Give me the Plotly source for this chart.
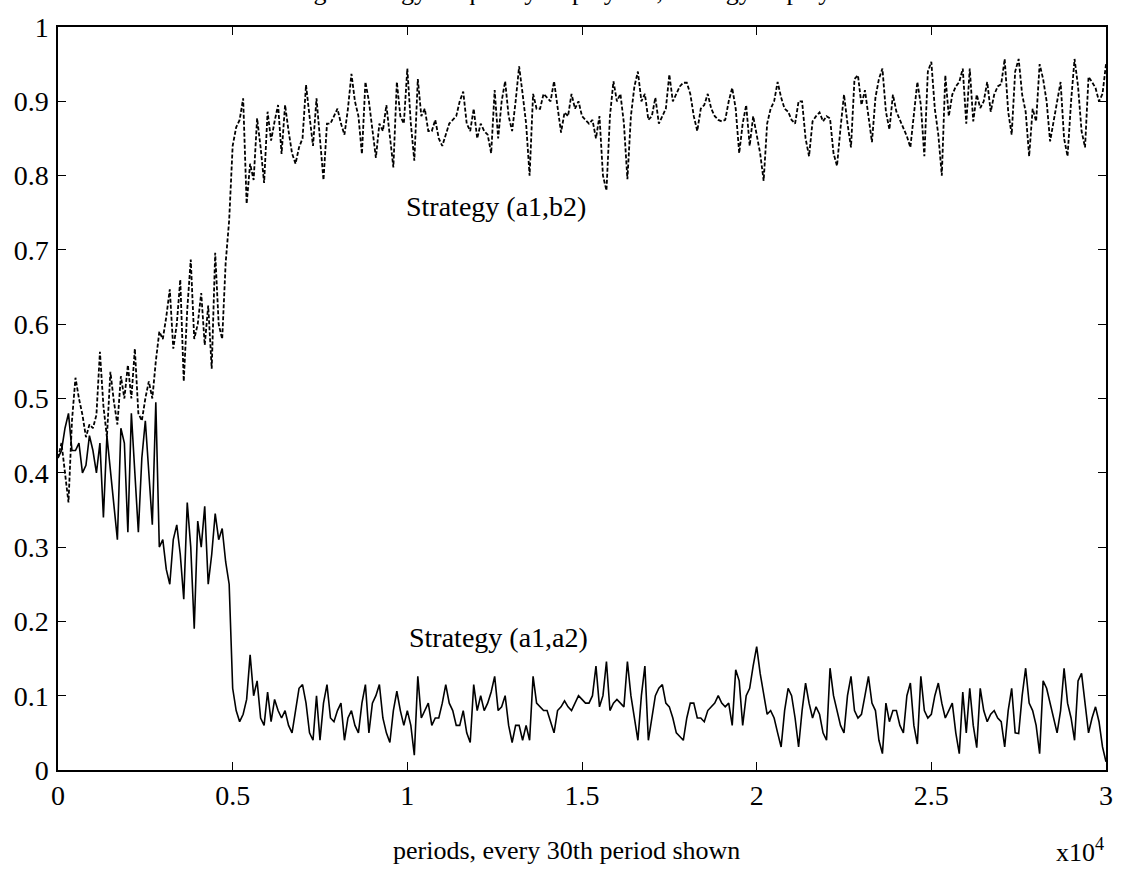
import plotly.graph_objects as go

# periods (every 100th period, in units of 10^4)
periods = list(range(0, 30001, 100))

# Strategy (a1,a2) - solid
a1a2 = [
    0.42, 0.43, 0.46, 0.48, 0.43, 0.43, 0.44, 0.40, 0.41, 0.45,
    0.43, 0.40, 0.44, 0.34, 0.45, 0.40, 0.35, 0.31, 0.46, 0.44,
    0.32, 0.48, 0.40, 0.32, 0.42, 0.47, 0.40, 0.33, 0.495, 0.30,
    0.31, 0.27, 0.25, 0.31, 0.33, 0.29, 0.23, 0.36, 0.30, 0.19,
    0.335, 0.30, 0.355, 0.25, 0.29, 0.345, 0.31, 0.325, 0.28, 0.25,
    0.11, 0.08, 0.065, 0.075, 0.095, 0.155, 0.10, 0.12, 0.07, 0.06,
    0.105, 0.065, 0.095, 0.08, 0.07, 0.08, 0.06, 0.05, 0.08, 0.11,
    0.115, 0.09, 0.05, 0.04, 0.10, 0.04, 0.09, 0.115, 0.07, 0.065,
    0.08, 0.09, 0.04, 0.07, 0.08, 0.06, 0.05, 0.09, 0.115, 0.05,
    0.09, 0.10, 0.115, 0.07, 0.05, 0.037, 0.08, 0.106, 0.08, 0.06,
    0.08, 0.06, 0.02, 0.126, 0.07, 0.08, 0.09, 0.06, 0.07, 0.07,
    0.09, 0.115, 0.09, 0.08, 0.06, 0.06, 0.08, 0.05, 0.037, 0.115,
    0.08, 0.10, 0.08, 0.09, 0.105, 0.126, 0.08, 0.085, 0.10, 0.06,
    0.037, 0.06, 0.06, 0.04, 0.06, 0.04, 0.126, 0.09, 0.085, 0.08,
    0.08, 0.065, 0.05, 0.08, 0.085, 0.093, 0.085, 0.08, 0.09, 0.10,
    0.095, 0.09, 0.09, 0.10, 0.14, 0.085, 0.10, 0.146, 0.08, 0.09,
    0.095, 0.09, 0.085, 0.146, 0.10, 0.07, 0.04, 0.10, 0.14, 0.04,
    0.07, 0.10, 0.11, 0.115, 0.09, 0.085, 0.07, 0.05, 0.045, 0.04,
    0.07, 0.09, 0.09, 0.07, 0.07, 0.065, 0.08, 0.085, 0.09, 0.10,
    0.09, 0.085, 0.09, 0.06, 0.135, 0.12, 0.06, 0.10, 0.11, 0.14,
    0.166, 0.13, 0.10, 0.075, 0.08, 0.07, 0.05, 0.031, 0.08, 0.11,
    0.10, 0.07, 0.031, 0.08, 0.117, 0.09, 0.07, 0.085, 0.075, 0.05,
    0.04, 0.137, 0.10, 0.08, 0.06, 0.05, 0.10, 0.126, 0.08, 0.07,
    0.075, 0.10, 0.126, 0.09, 0.08, 0.04, 0.022, 0.09, 0.065, 0.08,
    0.08, 0.06, 0.05, 0.10, 0.117, 0.06, 0.035, 0.126, 0.08, 0.07,
    0.075, 0.10, 0.117, 0.09, 0.07, 0.08, 0.09, 0.05, 0.022, 0.105,
    0.05, 0.11, 0.06, 0.03, 0.11, 0.08, 0.065, 0.075, 0.08, 0.07,
    0.065, 0.031, 0.08, 0.11, 0.05, 0.049, 0.10, 0.137, 0.09, 0.08,
    0.06, 0.022, 0.12, 0.11, 0.09, 0.07, 0.05, 0.08, 0.137, 0.09,
    0.07, 0.04, 0.12, 0.13, 0.09, 0.05, 0.07, 0.085, 0.065, 0.031,
    0.011,
]

# Strategy (a1,b2) - dashed
a1b2 = [
    0.42, 0.44, 0.40, 0.36, 0.47, 0.528, 0.50, 0.478, 0.448, 0.465,
    0.46, 0.478, 0.563, 0.49, 0.448, 0.536, 0.496, 0.465, 0.53, 0.50,
    0.545, 0.50, 0.567, 0.48, 0.47, 0.50, 0.523, 0.50, 0.55, 0.59,
    0.58, 0.61, 0.647, 0.567, 0.60, 0.66, 0.523, 0.62, 0.687, 0.58,
    0.60, 0.642, 0.572, 0.625, 0.54, 0.696, 0.60, 0.58, 0.683, 0.74,
    0.84, 0.865, 0.875, 0.904, 0.762, 0.816, 0.794, 0.877, 0.838, 0.79,
    0.886, 0.847, 0.873, 0.895, 0.829, 0.895, 0.86, 0.83, 0.816, 0.838,
    0.85, 0.922, 0.88, 0.84, 0.904, 0.85, 0.794, 0.87, 0.87, 0.88,
    0.89, 0.87, 0.855, 0.89, 0.937, 0.90, 0.88, 0.829, 0.926, 0.90,
    0.86, 0.824, 0.87, 0.86, 0.895, 0.85, 0.811, 0.926, 0.88, 0.87,
    0.944, 0.87, 0.82, 0.93, 0.88, 0.89, 0.86, 0.86, 0.875, 0.85,
    0.84, 0.855, 0.87, 0.875, 0.88, 0.90, 0.913, 0.87, 0.86, 0.89,
    0.85, 0.87, 0.86, 0.855, 0.83, 0.915, 0.85, 0.90, 0.927, 0.88,
    0.86, 0.90, 0.947, 0.91, 0.87, 0.80, 0.91, 0.89, 0.89, 0.91,
    0.905, 0.90, 0.927, 0.89, 0.858, 0.885, 0.88, 0.91, 0.89, 0.90,
    0.88, 0.875, 0.87, 0.875, 0.85, 0.88, 0.80, 0.78, 0.88, 0.927,
    0.90, 0.91, 0.87, 0.795, 0.88, 0.92, 0.94, 0.90, 0.91, 0.875,
    0.88, 0.905, 0.87, 0.88, 0.89, 0.936, 0.90, 0.91, 0.92, 0.925,
    0.925, 0.91, 0.88, 0.86, 0.89, 0.895, 0.91, 0.89, 0.88, 0.875,
    0.873, 0.875, 0.90, 0.918, 0.89, 0.83, 0.87, 0.895, 0.84, 0.88,
    0.855, 0.83, 0.793, 0.87, 0.89, 0.90, 0.926, 0.905, 0.89, 0.886,
    0.875, 0.87, 0.90, 0.90, 0.85, 0.826, 0.873, 0.88, 0.885, 0.873,
    0.88, 0.877, 0.83, 0.813, 0.864, 0.909, 0.87, 0.838, 0.93, 0.935,
    0.895, 0.915, 0.88, 0.845, 0.905, 0.93, 0.944, 0.886, 0.862, 0.909,
    0.886, 0.875, 0.864, 0.853, 0.838, 0.88, 0.926, 0.895, 0.826, 0.94,
    0.953, 0.89, 0.855, 0.80, 0.935, 0.88, 0.909, 0.92, 0.926, 0.944,
    0.87, 0.944, 0.873, 0.909, 0.891, 0.90, 0.926, 0.886, 0.909, 0.92,
    0.923, 0.957, 0.886, 0.855, 0.94, 0.957, 0.909, 0.886, 0.826, 0.89,
    0.873, 0.95, 0.93, 0.90, 0.846, 0.873, 0.90, 0.926, 0.85, 0.826,
    0.90, 0.957, 0.92, 0.86, 0.838, 0.933, 0.926, 0.918, 0.90, 0.91,
    0.95,
]

x_ticks = [0, 0.5, 1, 1.5, 2, 2.5, 3]
x_tick_labels = ["0", "0.5", "1", "1.5", "2", "2.5", "3"]
y_ticks = [0, 0.1, 0.2, 0.3, 0.4, 0.5, 0.6, 0.7, 0.8, 0.9, 1]
y_tick_labels = ["0", "0.1", "0.2", "0.3", "0.4", "0.5", "0.6", "0.7", "0.8", "0.9", "1"]

x = [p / 1e4 for p in periods]

FONT = "Liberation Serif, Times New Roman, serif"

fig = go.Figure()
fig.add_trace(go.Scatter(x=x, y=a1b2, mode="lines",
                         line=dict(color="black", width=1.8, dash="4px,2px"),
                         showlegend=False, hoverinfo="skip"))
fig.add_trace(go.Scatter(x=x, y=a1a2, mode="lines",
                         line=dict(color="black", width=1.6),
                         showlegend=False, hoverinfo="skip"))

axis_common = dict(showgrid=False, zeroline=False, showline=True, linecolor="black",
                   linewidth=1.5, mirror="ticks", ticks="inside", ticklen=8,
                   tickcolor="black", tickwidth=1.2,
                   tickfont=dict(family=FONT, size=28, color="black"))

fig.update_xaxes(range=[0, 3], tickvals=x_ticks, ticktext=x_tick_labels, **axis_common)
fig.update_yaxes(range=[0, 1], tickvals=y_ticks, ticktext=y_tick_labels,
                 ticklabelstandoff=2, **axis_common)

fig.add_annotation(x=1.255, y=0.758, xref="x", yref="y", text="Strategy (a1,b2)",
                   showarrow=False, font=dict(family=FONT, size=28, color="black"))
fig.add_annotation(x=1.26, y=0.178, xref="x", yref="y", text="Strategy (a1,a2)",
                   showarrow=False, font=dict(family=FONT, size=28, color="black"))
fig.add_annotation(x=0.485, y=-0.108, xref="paper", yref="paper",
                   text="periods, every 30th period shown", showarrow=False,
                   yanchor="middle", font=dict(family=FONT, size=26, color="black"))
fig.add_annotation(x=1.0, y=-0.108, xref="paper", yref="paper",
                   text="x10<sup>4</sup>", showarrow=False, xanchor="right",
                   yanchor="middle", font=dict(family=FONT, size=26, color="black"))
fig.add_annotation(x=0.48, y=1.025, xref="paper", yref="paper",
                   text="Average strategy frequency of player 1, strategy of player 2",
                   showarrow=False, yanchor="bottom",
                   font=dict(family=FONT, size=26, color="black"))

fig.update_layout(width=1131, height=880, plot_bgcolor="white", paper_bgcolor="white",
                  margin=dict(l=58, r=25, t=18, b=110))

fig.write_html("out.html")
